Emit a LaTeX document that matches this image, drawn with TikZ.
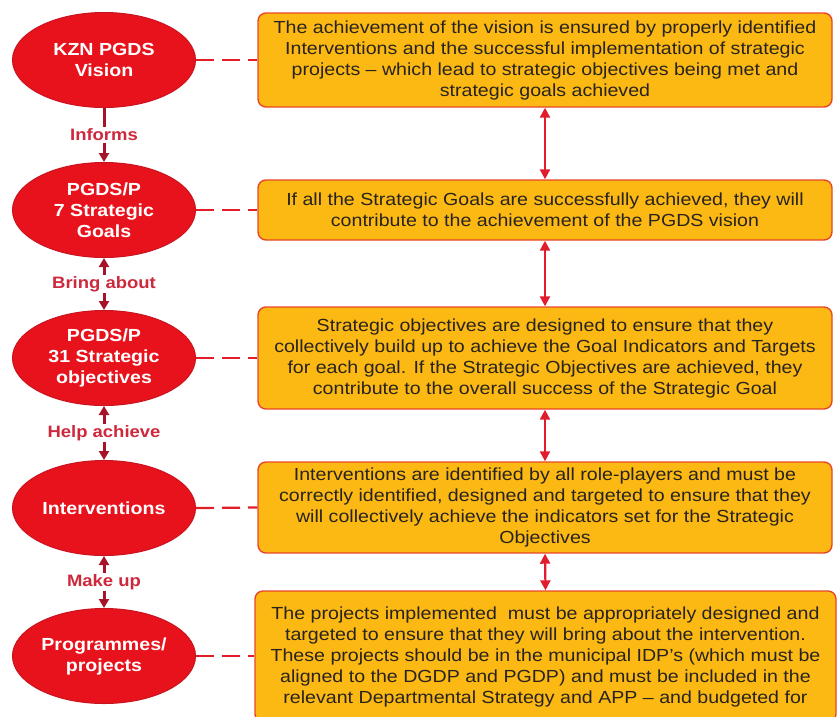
\documentclass[tikz,border=0pt]{standalone}
\usepackage{fontspec}
\setmainfont[FakeStretch=1.12]{Liberation Sans}
\usetikzlibrary{arrows.meta,shapes.geometric}
\definecolor{ellred}{RGB}{232,18,28}
\definecolor{ellborder}{RGB}{200,20,30}
\definecolor{boxfill}{RGB}{252,185,20}
\definecolor{boxborder}{RGB}{232,72,40}
\definecolor{dashred}{RGB}{225,30,40}
\definecolor{linkred}{RGB}{225,28,45}
\definecolor{darkred}{RGB}{165,20,40}
\definecolor{labred}{RGB}{205,40,60}
\definecolor{boxtext}{RGB}{40,35,30}
\tikzset{
  ell/.style={ellipse, fill=ellred, draw=ellborder, line width=1pt,
    minimum width=183pt, minimum height=95pt, inner sep=0pt, align=center,
    text=white, font=\fontsize{17.5}{21}\selectfont\bfseries},
  infobox/.style={rectangle, rounded corners=8pt, fill=boxfill, draw=boxborder,
    line width=1.4pt, minimum width=574pt, inner sep=0pt, align=center,
    text=boxtext, font=\fontsize{17.5}{21}\selectfont},
  lab/.style={fill=white, inner sep=1.5pt, text=labred,
    font=\fontsize{16.5}{19}\selectfont\bfseries},
  dashlink/.style={draw=dashred, line width=2.2pt, dash pattern=on 18pt off 8pt},
  boxlink/.style={draw=linkred, line width=2.2pt,
    {Triangle[width=10pt,length=10pt]}-{Triangle[width=10pt,length=10pt]}},
  ellone/.style={draw=darkred, line width=3pt, -{Triangle[width=10pt,length=9pt]}},
  elltwo/.style={draw=darkred, line width=3pt,
    {Triangle[width=10pt,length=9pt]}-{Triangle[width=10pt,length=9pt]}}
}
\begin{document}
\begin{tikzpicture}[x=1pt,y=-1pt]
\useasboundingbox (0,0) rectangle (838,716);
\clip (0,0) rectangle (838,716);
\fill[white] (0,0) rectangle (838,716);

% ellipses
\node[ell] (e1) at (104,60) {KZN PGDS\\Vision};
\node[ell] (e2) at (104,210) {PGDS/P\\7 Strategic\\Goals};
\node[ell] (e3) at (104,358) {PGDS/P\\31 Strategic\\objectives};
\node[ell] (e4) at (104,508) {Interventions};
\node[ell] (e5) at (104,656) {Programmes/\\projects};

% boxes
\node[infobox, minimum height=94pt] (b1) at (545,60)
 {The achievement of the vision is ensured by properly identified\\
  Interventions and the successful implementation of strategic\\
  projects -- which lead to strategic objectives being met and\\
  strategic goals achieved};
\node[infobox, minimum height=60pt] (b2) at (545,210)
 {If all the Strategic Goals are successfully achieved, they will\\
  contribute to the achievement of the PGDS vision};
\node[infobox, minimum height=102pt] (b3) at (545,358)
 {Strategic objectives are designed to ensure that they\\
  collectively build up to achieve the Goal Indicators and Targets\\
  for each goal. If the Strategic Objectives are achieved, they\\
  contribute to the overall success of the Strategic Goal};
\node[infobox, minimum height=91pt] (b4) at (545,507.5)
 {Interventions are identified by all role-players and must be\\
  correctly identified, designed and targeted to ensure that they\\
  will collectively achieve the indicators set for the Strategic\\
  Objectives};
\node[infobox, minimum height=131pt, minimum width=581pt] (b5) at (545.5,656.5)
 {The projects implemented\ \ must be appropriately designed and\\
  targeted to ensure that they will bring about the intervention.\\
  These projects should be in the municipal IDP's (which must be\\
  aligned to the DGDP and PGDP) and must be included in the\\
  relevant Departmental Strategy and APP -- and budgeted for};

% dashed links
\draw[dashlink] (e1.east) -- (b1.west);
\draw[dashlink] (e2.east) -- (b2.west);
\draw[dashlink] (e3.east) -- (b3.west);
\draw[dashlink] (e4.east) -- (b4.west);
\draw[dashlink] (e5.east) -- (e5.east -| b5.west);

% box links
\draw[boxlink] (b1.south) -- (b2.north);
\draw[boxlink] (b2.south) -- (b3.north);
\draw[boxlink] (b3.south) -- (b4.north);
\draw[boxlink] (b4.south) -- (b5.north);

% ellipse links with labels
\draw[ellone] (e1.south) -- (e2.north) node[lab, midway] {Informs};
\draw[elltwo] (e2.south) -- (e3.north) node[lab, midway] {Bring about};
\draw[elltwo] (e3.south) -- (e4.north) node[lab, midway] {Help achieve};
\draw[elltwo] (e4.south) -- (e5.north) node[lab, midway] {Make up};
\end{tikzpicture}
\end{document}
